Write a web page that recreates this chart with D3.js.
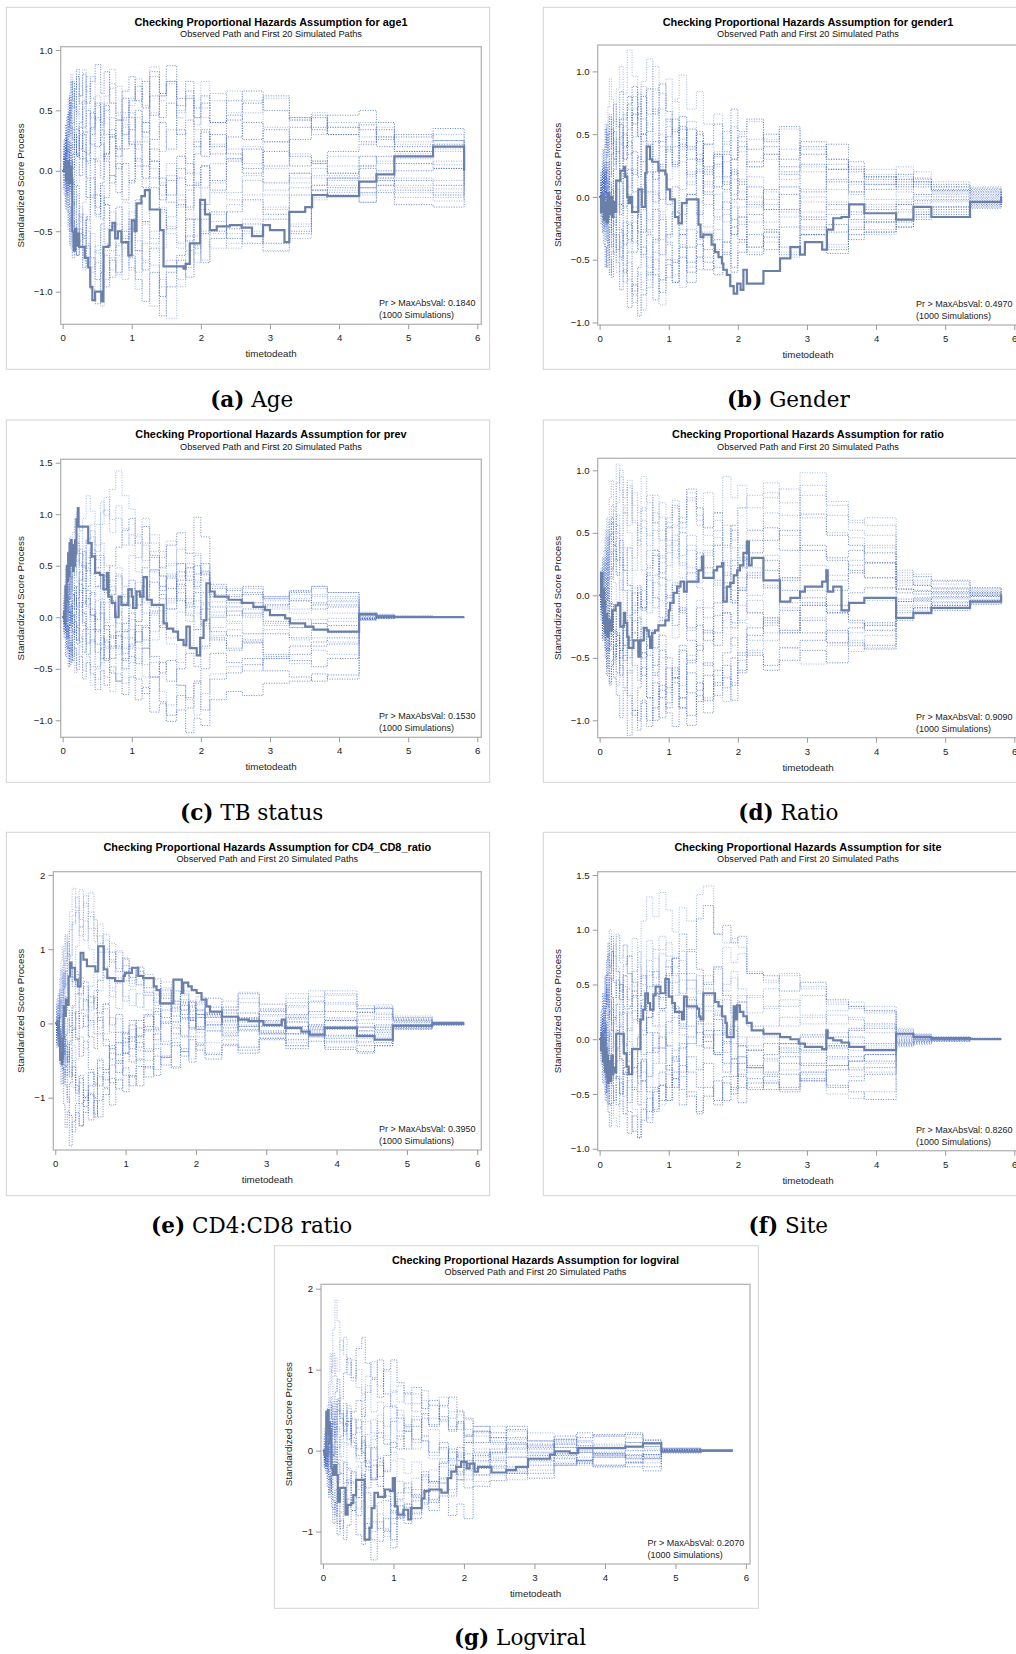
<!DOCTYPE html>
<html>
<head>
<meta charset="utf-8">
<script src="https://cdn.jsdelivr.net/npm/d3@7"></script>
<style>
  body { margin: 0; background: #fff; }
  svg { display: block; }
</style>
</head>
<body>
<svg id="fig" width="1016" height="1654"></svg>
<script>
// Death times at which the score processes can jump; every path returns to 0 at the last death.
const eventTimes = [0, 0.02, 0.04, 0.06, 0.08, 0.10, 0.12, 0.14, 0.17, 0.20, 0.24,
  0.29, 0.34, 0.40, 0.47, 0.55, 0.60, 0.68, 0.77, 0.86, 0.96,
  1.05, 1.15, 1.26, 1.40, 1.50, 1.65, 1.78, 1.90, 2.00, 2.13,
  2.37, 2.60, 2.90, 3.28, 3.60, 3.83, 4.29, 4.54, 4.80, 5.36];
const lastTime = 5.81;
const xTickValues = [0, 1, 2, 3, 4, 5, 6];

// First 20 simulated standardized score paths, one row per path, values in hundredths.
const ageSim = [
  [0,12,-2,26,44,28,56,40,64,48,30, 52,70,44,62,36,50,72,48,30,54, 66,40,78,58,72,44,60,38,52,64, 48,58,36,44,30,40,28,36,22,18],
  [0,-10,-26,-6,-34,-50,-30,-58,-42,-70,-52, -80,-62,-98,-110,-84,-70,-88,-62,-50,-72, -90,-108,-84,-120,-96,-74,-88,-62,-76,-56, -48,-60,-40,-52,-20,-14,-26,-18,-28,-30],
  [0,16,32,14,48,64,80,58,72,46,62, 84,66,78,54,40,62,84,70,48,60, 76,54,86,62,74,48,60,34,44,22, 10,20,2,-10,-4,4,12,8,14,16],
  [0,-14,2,-20,6,24,8,-10,-28,-12,-38, -54,-40,-72,-90,-68,-96,-74,-84,-60,-48, -66,-82,-64,-104,-84,-70,-54,-64,-40,-50, -34,-24,-36,-20,-12,-6,-14,-8,-16,-20],
  [0,6,20,2,-14,4,-24,-8,-36,-20,-42, -26,-8,-22,10,28,12,-4,20,38,24, 8,24,-6,-20,-4,-30,-16,-2,-14,6, 18,6,24,14,8,12,4,0,-6,-8],
  [0,22,38,16,46,62,40,26,50,34,18, 30,8,36,56,38,54,28,42,60,44, 24,40,8,-6,-20,2,-12,14,32,20, 42,56,62,44,34,46,50,40,28,35],
  [0,-16,-32,-10,-44,-60,-38,-72,-54,-40,-64, -82,-60,-96,-76,-112,-90,-72,-86,-64,-80, -98,-76,-112,-90,-122,-96,-80,-60,-74,-52, -64,-50,-66,-46,-22,-18,-26,-16,-22,-25],
  [0,10,-6,8,-16,4,22,2,30,14,-4, 10,-22,-6,-30,-10,14,34,18,42,22, 4,-14,8,-24,-8,12,-2,24,12,30, 14,2,-10,-2,-16,-6,4,12,6,2],
  [0,-6,-20,2,-28,-12,-30,-46,-24,-52,-36, -56,-40,-22,-38,-20,-48,-66,-44,-60,-34, -58,-74,-50,-64,-38,-24,-40,-12,-28,-18, -24,-8,-16,-2,6,-4,12,6,10,5],
  [0,26,8,44,60,36,74,52,68,84,62, 80,56,74,88,64,82,56,42,66,78, 58,74,46,62,74,54,66,44,56,40, 58,66,50,42,46,36,34,26,30,25],
  [0,-20,-4,-34,-50,-28,-64,-42,-70,-52,-30, -56,-76,-52,-68,-44,-28,-50,-70,-54,-82, -66,-44,-60,-34,-52,-64,-40,-54,-32,-42, -28,-20,-32,-14,-6,-12,-18,-8,-14,-15],
  [0,4,-10,10,24,4,36,18,34,12,40, 58,32,48,20,34,8,-10,6,-24,-8, 10,-6,26,40,18,34,6,-10,4,-16, 8,18,4,26,36,30,24,34,20,25],
  [0,-8,8,20,2,-14,-2,-28,-12,-44,-58, -36,-64,-84,-66,-48,-60,-34,-50,-26,-48, -66,-42,-56,-30,-46,-60,-40,-68,-50,-36, -52,-40,-30,-44,-24,-16,-20,-12,-18,-22],
  [0,20,4,30,48,30,58,74,52,78,56, 36,50,22,8,-6,14,30,12,44,58, 70,52,82,64,87,60,74,52,62,40, 46,26,34,12,6,16,22,28,16,22],
  [0,-8,6,-14,8,-6,-20,-4,10,-10,4, 22,6,34,52,30,56,68,46,30,48, 18,32,2,-10,6,-20,-32,-14,-28,-10, -18,-4,-20,-6,2,-2,-6,0,6,8],
  [0,14,-2,-18,-4,-30,-44,-26,-56,-70,-48, -64,-38,-20,-36,-12,-28,-46,-30,-56,-40, -24,-42,-14,-32,-48,-28,-58,-40,-52,-34, -56,-44,-60,-50,-16,-20,-14,-12,-8,-12],
  [0,-4,14,30,10,44,56,34,68,50,70, 56,78,60,42,56,30,44,18,36,22, 44,28,48,16,34,50,62,44,74,58, 66,48,60,42,48,36,40,28,24,30],
  [0,10,26,6,-10,6,-18,14,30,12,36, 16,-6,10,-20,-40,-22,-4,-18,6,-10, 22,4,18,-12,-26,-6,-30,-12,4,-8, 10,-2,16,4,8,-2,2,-6,0,2],
  [0,-14,-30,-8,-46,-62,-40,-72,-54,-36,-58, -74,-50,-80,-62,-44,-66,-82,-60,-90,-70, -84,-60,-78,-96,-74,-90,-66,-76,-52,-64, -60,-52,-67,-56,-12,-8,-18,-6,-12,-18],
  [0,6,18,-2,16,-6,8,-12,14,28,10, 32,14,30,44,22,10,28,2,18,34, 50,32,62,44,56,30,42,20,34,14, 28,40,24,36,44,30,38,20,16,20]
];
const genderSim = [
  [0,18,4,36,58,40,72,94,78,60,86, 104,82,117,96,74,92,110,86,70,94, 78,97,70,84,58,66,44,56,36,46, 30,38,20,26,12,18,6,10,4,-3],
  [0,-12,-28,-8,-40,-56,-34,-62,-44,-30,-52, -74,-58,-88,-70,-95,-78,-60,-82,-66,-50, -68,-48,-60,-38,-52,-62,-44,-56,-36,-46, -32,-40,-24,-45,-30,-28,-20,-16,-10,-6],
  [0,10,-4,22,8,34,50,30,62,44,28, 48,66,40,80,62,44,58,30,50,36, 54,28,16,34,10,24,42,30,50,60, 46,54,38,30,24,22,14,20,8,5],
  [0,-6,10,24,6,-10,8,-14,-30,-16,-42, -26,-60,-44,-75,-56,-40,-62,-34,-18,-36, -52,-30,-68,-48,-58,-34,-46,-24,-34,-14, -26,-10,-30,-22,-34,-28,-24,-18,-12,-8],
  [0,14,28,8,36,20,52,40,18,46,62, 42,30,54,70,48,88,66,104,82,60, 76,46,60,30,42,16,28,2,14,-8, 4,-12,6,14,2,12,16,10,5,3],
  [0,-16,-2,-24,4,-14,-34,-12,-40,-20,-6, 12,-8,22,4,-16,6,-28,-10,-46,-30, -12,-30,2,-14,20,8,34,18,48,38, 50,30,40,22,28,14,18,8,6,4],
  [0,6,-10,8,-22,-4,14,28,6,30,12, -6,16,-20,-36,-14,-48,-66,-44,-86,-64, -50,-72,-40,-58,-28,-42,-14,-30,-20,-40, -28,-44,-30,-38,-20,-26,-12,-10,-8,-5],
  [0,-10,6,-16,4,22,8,38,54,30,46, 62,40,74,88,66,80,52,70,44,62, 40,54,30,44,18,32,6,22,12,28, 40,24,44,30,22,16,12,15,10,7],
  [0,22,38,16,2,14,-8,12,-6,26,40, 18,34,8,22,-6,10,-18,4,-12,14, 28,6,20,-4,12,-10,4,-18,-8,-20, -6,-16,0,-10,4,-8,-4,0,2,1],
  [0,-22,-6,-38,-56,-40,-24,-50,-64,-44,-30, -48,-20,-34,-8,-28,-46,-30,-62,-76,-54, -68,-40,-52,-28,-42,-56,-36,-60,-44,-30, -42,-24,-18,-28,-12,-20,-6,-12,-14,-9],
  [0,12,26,6,40,58,36,66,48,26,44, 20,56,70,48,82,62,44,68,40,56, 26,38,10,22,-6,8,-20,-4,-16,0, -10,8,-4,14,22,10,24,14,12,8],
  [0,-4,12,-6,20,2,-16,-2,-26,-10,6, -14,18,2,36,16,50,30,44,22,48, 62,40,54,28,42,58,36,70,52,62, 44,56,34,42,20,16,8,12,5,2],
  [0,8,-8,-24,-6,-36,-18,-2,-20,-8,-34, -50,-30,-66,-84,-60,-74,-48,-58,-34,-50, -62,-40,-56,-34,-48,-26,-36,-18,-34,-44, -36,-48,-30,-40,-24,-30,-18,-14,-8,-5],
  [0,14,-2,18,-10,6,28,10,-4,22,36, 14,50,34,66,48,28,42,14,26,-6, 8,-14,2,20,4,26,12,-2,10,-6, 6,18,4,22,12,6,10,2,0,-1],
  [0,-14,-28,-8,-34,-18,-46,-60,-38,-22,-42, -28,-54,-36,-20,-38,-10,-26,2,-16,-30, -12,-38,-26,-48,-32,-18,-36,-8,-22,-4, -20,-10,-26,-14,-30,-18,-10,-5,-3,-2],
  [0,20,6,38,54,32,50,64,42,74,56, 84,62,80,58,72,50,86,66,90,68, 52,64,40,52,24,34,10,20,-2,8, -10,2,-16,-6,-18,-10,-6,-3,-2,0],
  [0,-6,-20,-2,-28,-10,-24,-40,-16,-46,-60, -40,-68,-52,-78,-62,-90,-72,-50,-66,-38, -52,-26,-40,-12,-24,2,-10,14,4,16, -2,8,-12,-4,-14,-6,-2,2,3,4],
  [0,10,22,4,28,12,-2,16,34,52,36, 58,30,44,18,32,4,20,-4,24,40, 26,56,38,50,22,34,16,30,40,24, 34,20,26,12,4,10,14,12,8,6],
  [0,-2,-14,4,-18,2,-20,-6,12,-8,14, -10,6,-28,-12,-42,-26,-56,-36,-14,-32, -4,-20,12,26,8,36,52,30,44,24, 34,14,24,6,10,-2,4,-2,-4,-3],
  [0,6,-8,14,-6,-22,-4,-18,6,-12,-26, -6,-38,-22,-44,-14,-28,4,20,-2,38, 24,42,18,30,2,-16,-4,-30,-16,-40, -28,-46,-30,-42,-26,-20,-24,-14,-8,-7]
];
const prevSim = [
  [0,22,8,35,52,41,70,58,88,102,84, 96,118,103,90,112,99,124,142,118,105, 80,96,72,58,74,52,44,60,36,22, 28,14,20,8,12,4,3,1,0,0],
  [0,-12,4,-20,-8,-33,-18,-42,-30,-51,-38, -60,-44,-55,-70,-52,-66,-48,-62,-75,-58, -80,-68,-92,-84,-101,-90,-112,-98,-105,-80, -72,-76,-64,-62,-55,-60,-2,-1,0,0],
  [0,15,30,12,45,60,38,72,55,80,62, 48,75,90,70,102,116,95,108,86,70, 78,55,64,40,52,30,48,62,41,30, 22,28,18,25,30,20,3,2,1,0],
  [0,-6,12,-4,20,5,-15,2,-22,-8,14, -5,-25,-12,-34,-20,-42,-28,-14,-35,-20, -45,-30,-58,-44,-62,-50,-35,-48,-28,-20, -32,-25,-38,-42,-48,-40,1,0,0,0],
  [0,10,-4,24,40,22,55,70,48,66,52, 35,48,22,30,10,-5,12,-18,-30,-12, -40,-58,-44,-72,-85,-66,-80,-95,-74,-55, -48,-52,-40,-45,-32,-36,-3,-1,0,0],
  [0,14,28,6,30,18,44,26,58,72,50, 64,45,58,30,42,24,50,68,84,96, 72,88,60,48,70,82,62,97,78,28, 20,24,12,16,8,10,2,1,0,0],
  [0,-14,-2,-28,-40,-22,-36,-12,-30,-46,-28, -52,-38,-66,-50,-40,-58,-72,-55,-64,-44, -30,-46,-22,-8,-20,5,18,4,12,2, -4,4,-8,-2,-6,-1,0,0,0,0],
  [0,6,20,4,32,18,40,22,8,30,44, 28,52,66,48,60,36,22,40,14,28, 12,30,46,26,38,16,2,-12,8,-22, -30,-22,-36,-28,-24,-20,-1,0,0,0],
  [0,20,36,18,50,64,44,82,96,72,88, 60,74,42,56,28,14,30,-6,-20,-2, -24,-8,10,-4,16,28,12,34,45,15, 10,14,8,16,20,18,4,2,1,0],
  [0,-8,10,-14,4,18,-2,22,8,-10,-24, -12,-36,-22,-48,-30,-40,-18,-30,-6,12, -4,20,34,18,40,52,36,50,42,32, 26,30,20,24,14,12,2,1,0,0],
  [0,12,-6,8,-18,-30,-12,-42,-54,-36,-20, -34,-10,-24,4,18,-2,26,42,30,60, 44,72,80,64,50,66,40,28,14,5, 10,4,16,22,28,24,5,3,1,0],
  [0,-4,-16,6,-20,-8,12,-6,24,10,36, 50,30,62,44,28,40,16,2,-14,4, -24,-10,-38,-54,-42,-66,-78,-62,-90,-60, -54,-46,-40,-36,-28,-26,-2,-1,0,0],
  [0,26,48,30,64,78,52,68,40,56,24, 38,10,-4,16,-18,-30,-8,6,-12,20, 34,14,46,30,8,24,-4,10,-6,0, 6,0,12,18,22,15,3,2,1,0],
  [0,-16,-4,-30,-12,6,-10,16,30,12,26, 4,-12,8,-26,-40,-22,-54,-62,-40,-28, -14,-30,4,-10,18,32,10,42,52,10, 2,8,-4,-10,-6,-15,-1,0,0,0],
  [0,8,20,2,28,44,30,60,74,54,66, 42,58,78,64,90,104,82,96,70,80, 58,70,44,30,42,18,4,16,-8,-18, -12,-16,-6,-10,-2,-4,0,0,0,0],
  [0,-6,-20,-8,-32,-46,-24,-38,-12,-26,6, -8,18,2,-14,4,-24,-40,-28,-50,-38, -60,-74,-58,-82,-95,-76,-88,-64,-50,-35, -44,-40,-52,-58,-62,-56,-2,-1,0,0],
  [0,16,2,22,8,28,14,38,52,34,62, 48,76,84,60,72,50,36,48,22,10, 26,4,-14,6,-26,-44,-28,-12,-30,0, 6,2,10,4,12,16,2,1,0,0],
  [0,-20,-38,-18,-48,-30,-44,-16,-4,-22,10, 28,12,24,-2,14,-12,-30,-18,-42,-26, -8,-22,6,22,8,36,48,30,44,20, 14,22,18,26,30,24,4,2,1,0],
  [0,4,16,-2,26,38,18,4,-14,8,-20, -34,-16,-48,-60,-44,-28,-52,-36,-14,-30, -4,18,2,30,14,40,52,36,24,-10, -6,-16,-12,-22,-20,-24,-3,-1,0,0],
  [0,-4,8,22,6,-8,12,-14,2,18,32, 14,26,2,-12,-26,-8,-20,4,20,36, 22,48,58,40,28,44,14,24,-2,-14, -18,-24,-16,-20,-12,-8,-1,0,0,0]
];
const ratioSim = [
  [0,14,30,12,46,62,40,78,92,70,105, 84,66,88,72,50,68,80,58,74,55, 40,62,76,56,82,66,95,78,88,70, 82,64,98,75,58,62,18,15,11,6],
  [0,-12,-28,-10,-42,-58,-36,-70,-52,-66,-80, -98,-76,-112,-92,-100,-84,-105,-90,-72,-94, -105,-82,-96,-70,-84,-60,-74,-50,-62,-48, -60,-52,-44,-54,-40,-43,-20,-15,-12,-7],
  [0,8,-6,24,38,20,46,30,58,42,64, 48,70,56,82,66,95,74,58,44,62, 76,54,82,64,48,60,38,56,70,52, 78,85,62,50,46,38,16,17,12,6],
  [0,-6,-20,4,-14,-30,-12,-44,-26,-52,-36, -64,-48,-80,-96,-74,-58,-82,-64,-98,-86, -70,-90,-62,-76,-54,-80,-66,-84,-60,-46, -56,-42,-36,-28,-38,-40,-14,-10,-8,-5],
  [0,22,4,36,52,30,14,34,50,28,46, 24,38,8,-6,-22,-4,12,-10,26,40, 56,32,48,20,36,8,18,-6,-20,-4, -30,-42,-55,-40,-30,-24,-12,-8,-5,-3],
  [0,-16,-34,-18,-50,-64,-42,-72,-56,-40,-62, -44,-28,-50,-30,-46,-64,-40,-56,-32,-50, -66,-44,-78,-85,-64,-72,-46,-34,-48,-26, -18,-28,-8,-14,2,6,5,4,3,2],
  [0,10,-4,16,30,14,52,36,20,40,18, 4,24,38,20,56,70,48,80,62,44, 30,50,22,10,34,46,28,56,40,22, 32,14,24,12,28,40,10,8,6,4],
  [0,-10,-24,-6,-30,-14,6,-8,22,36,16, 30,4,-16,2,-34,-50,-28,-42,-20,-6, 8,-12,18,34,22,40,16,28,4,-14, -22,-12,-30,-38,-26,-22,-5,-3,-8,-4],
  [0,20,6,-8,14,26,8,42,58,40,74, 95,72,86,58,44,60,40,66,52,34, 48,24,36,6,-10,12,-26,-40,-22,-36, -18,-6,4,16,24,14,8,10,6,3],
  [0,-4,-20,-6,-36,-22,-44,-18,-32,-50,-30, -56,-74,-60,-92,-108,-86,-100,-70,-82,-58, -66,-40,-52,-24,-36,-6,10,-4,28,44, 54,36,65,48,40,34,12,8,5,2],
  [0,8,20,-2,26,8,30,14,34,10,-6, 12,-14,4,-30,-18,-46,-30,-64,-50,-78, -60,-72,-48,-70,-82,-64,-85,-70,-52,-44, -36,-28,-20,-12,-6,-4,-10,-12,-10,-6],
  [0,-14,4,-8,20,36,16,48,62,40,28, 44,20,8,-12,6,-10,22,36,18,54, 72,58,85,70,54,66,40,52,30,14, 20,4,-6,-14,-22,-28,-18,-10,-6,-4],
  [0,12,26,6,-10,8,-22,-38,-20,-54,-72, -58,-40,-62,-36,-18,-30,-6,10,-4,24, 36,14,40,22,32,12,24,4,-8,-14, -24,-30,-18,-38,-45,-32,-8,-5,-3,-1],
  [0,-20,-36,-14,-44,-26,-8,-30,-16,-48,-32, -50,-20,-34,-8,8,-10,16,-2,-18,0, -24,-10,-36,-44,-28,-40,-14,-22,6,16, 28,12,40,30,36,26,5,3,1,0],
  [0,6,18,-2,30,46,28,60,72,50,90, 100,78,92,60,40,54,24,36,8,-16, -34,-12,-28,-4,-18,10,-2,24,38,52, 66,48,80,64,52,48,14,12,9,5],
  [0,-8,-22,-4,-36,-50,-28,-40,-14,-30,-6, -24,-40,-18,-56,-68,-46,-82,-100,-76,-90, -66,-82,-54,-40,-56,-30,-14,-26,4,18, 6,14,-2,-8,-20,-24,-3,-2,-1,0],
  [0,16,30,10,24,-4,12,28,14,40,56, 38,66,50,30,44,20,36,52,32,58, 70,50,78,60,40,52,26,38,14,0, 8,-10,-20,-30,-36,-42,-18,-14,-10,-7],
  [0,-6,-16,2,-10,14,-4,-20,-6,-28,-40, -24,-52,-36,-20,-38,-26,-48,-62,-44,-74, -58,-90,-104,-80,-94,-70,-56,-72,-46,-32, -20,-30,-8,4,18,26,2,1,2,1],
  [0,4,16,0,28,12,40,58,44,68,50, 34,20,38,6,-10,4,-14,16,30,12, 44,26,10,30,18,40,56,44,70,80, 90,74,88,72,60,56,20,15,12,6],
  [0,-2,-12,6,-18,-4,14,-6,-22,-8,-32, -44,-24,-36,-14,2,-12,18,32,14,-2, 10,-14,-26,-10,-30,-16,6,-6,22,34, 44,52,36,28,20,14,-5,-4,-2,-1]
];
const cd4Sim = [
  [0,24,8,46,72,50,98,120,96,150,182, 156,130,172,144,118,96,112,84,62,78, 50,64,38,24,40,18,30,12,26,8, 22,34,16,40,28,44,20,25,8,2],
  [0,-28,-10,-54,-82,-60,-110,-140,-118,-165,-132, -108,-138,-120,-96,-126,-104,-88,-110,-76,-92, -70,-84,-58,-70,-46,-60,-38,-52,-30,-42, -28,-36,-20,-30,-24,-35,-38,-30,-8,-2],
  [0,16,38,18,60,78,52,34,66,88,62, 104,130,112,150,128,108,120,86,98,70, 54,70,42,28,38,16,26,6,-6,8, -12,-2,-20,-8,-16,-4,-10,-15,-5,-1],
  [0,-12,8,-30,-14,12,-6,36,18,-4,14, -20,-44,-24,-62,-84,-60,-76,-40,-54,-20, -34,-6,12,-8,26,10,28,4,18,-2, 10,-8,2,-14,-4,-20,-30,-26,-6,-2],
  [0,32,12,60,84,104,78,118,92,126,146, 170,140,162,128,110,134,100,82,96,66, 74,52,62,38,48,26,40,18,30,8, 18,28,10,24,36,26,20,14,8,2],
  [0,-6,-24,-8,-40,-62,-36,-84,-106,-80,-58, -84,-108,-90,-130,-104,-126,-96,-74,-88,-60, -72,-48,-60,-34,-46,-26,-38,-18,-28,-10, -16,-4,-14,-22,-10,-24,-25,-20,-4,-1],
  [0,12,-4,30,46,22,50,70,44,82,56, 40,62,30,18,36,4,26,44,20,58, 74,52,66,40,56,30,44,24,36,14, 22,6,16,28,12,40,10,5,5,1],
  [0,-16,4,-34,-18,-52,-30,-58,-38,-72,-50, -90,-70,-112,-94,-122,-84,-66,-80,-50,-70, -84,-58,-72,-44,-56,-30,-44,-22,-36,-48, -30,-40,-22,-34,-18,-32,-40,-30,-7,-2],
  [0,6,24,2,34,58,40,84,106,90,134, 150,118,138,100,82,96,64,48,60,36, 24,40,18,34,46,26,38,16,28,12, 30,42,20,34,44,38,24,20,10,2],
  [0,-22,-6,-38,-16,8,-12,-30,-52,-34,-70, -94,-74,-100,-66,-82,-50,-62,-30,-42,-12, -24,4,-10,20,8,30,12,22,-4,10, -6,6,-12,-4,-18,-8,-5,-8,-3,-1],
  [0,10,-6,22,44,30,68,52,90,74,56, 70,38,50,22,34,4,-14,8,-26,-40, -20,-50,-36,-62,-44,-58,-34,-48,-26,-40, -22,-32,-14,-26,-8,-18,5,8,3,1],
  [0,-10,6,-22,-40,-18,-56,-70,-44,-24,-6, -22,14,-4,36,20,58,76,96,70,88, 62,76,48,60,34,44,18,30,8,22, 4,14,-4,8,16,4,15,20,6,1],
  [0,14,-4,10,-20,-36,-14,-52,-70,-46,-30, -48,-18,-34,-2,14,-6,20,-12,6,-24, -8,-36,-50,-28,-44,-20,-34,-8,-18,2, -10,6,-4,10,-2,8,-15,-10,-2,0],
  [0,-4,-18,8,30,12,48,70,94,74,50, 66,40,56,28,44,14,26,-2,12,-14, 4,-16,-4,16,0,22,6,28,12,34, 18,40,26,12,30,16,15,22,4,1],
  [0,20,40,18,-4,12,-24,-48,-28,-66,-86, -104,-80,-98,-66,-80,-48,-62,-34,-52,-30, -44,-18,-34,-10,-24,-2,-16,6,-12,-26, -14,-32,-20,-30,-12,-26,-20,-18,-5,-1],
  [0,-14,-30,-10,-46,-28,-42,-16,6,-12,24, 40,18,32,4,-14,8,-22,-34,-12,-26, -2,-18,10,-6,18,2,24,8,-8,14, 2,-10,4,-14,-2,-16,-10,-5,-2,0],
  [0,26,6,30,10,-12,-30,-8,-28,-4,22, 6,34,18,50,70,44,62,36,54,30, 46,22,38,12,26,2,18,-6,8,-10, 6,-4,12,22,8,28,20,12,3,1],
  [0,-32,-14,-40,-24,-58,-80,-62,-100,-124,-146, -120,-138,-104,-84,-100,-72,-86,-56,-66,-40, -52,-26,-38,-14,-28,-6,-18,4,-8,12, -2,8,-10,2,-14,-4,-15,-12,-4,-1],
  [0,8,26,10,44,66,48,90,110,92,136, 152,180,158,176,140,118,96,108,74,86, 58,70,42,30,44,20,32,8,18,-6, -18,-4,-14,2,-8,6,0,-5,-2,0],
  [0,-8,12,-4,-24,-6,-40,-22,-52,-28,-8, 16,-6,10,-18,-34,-14,-30,-48,-26,-40, -18,-32,-8,-22,2,-14,8,-6,12,-2, 14,2,18,6,-6,4,-5,-2,1,0]
];
const siteSim = [
  [0,18,4,36,58,40,76,100,82,64,50, 36,58,76,92,70,108,130,112,134,118, 98,120,108,132,140,96,88,92,84,60, 52,58,46,32,34,30,8,4,2,0],
  [0,-14,2,-30,-50,-34,-66,-80,-58,-42,-60, -40,-68,-86,-70,-90,-74,-54,-66,-42,-56, -36,-60,-48,-68,-52,-38,-56,-44,-58,-40, -34,-44,-30,-42,-48,-55,-5,-3,-1,0],
  [0,10,24,6,42,60,36,72,54,80,96, 74,86,60,48,66,40,58,82,94,76, 60,42,54,28,14,24,-4,8,-16,-26, -20,-28,-12,-4,-10,-8,-3,-2,0,0],
  [0,-6,8,-12,14,-4,-26,-8,-42,-56,-34, -50,-30,-58,-44,-22,-38,-12,6,-8,16, 30,12,36,20,4,-12,6,-22,-34,-46, -40,-48,-36,-44,-38,-32,-6,-4,-2,0],
  [0,22,6,40,56,34,60,42,70,86,66, 50,30,46,18,32,8,26,50,36,72, 58,40,60,32,46,22,8,16,-4,2, 12,20,14,26,30,24,6,3,1,0],
  [0,-20,-40,-22,-56,-38,-60,-30,-14,-36,-8, 12,-6,28,40,18,30,6,-12,2,-28, -44,-24,-52,-66,-44,-60,-34,-46,-22,-10, -4,-12,2,-8,-16,-20,-4,-2,0,0],
  [0,6,20,-2,30,50,36,58,28,14,32, 4,-14,10,-26,-40,-20,-34,-8,-22,6, 24,10,38,20,52,64,44,56,34,40, 28,36,22,14,20,6,7,4,1,0],
  [0,-10,-24,-4,10,-12,22,36,14,-4,8, -18,-32,-14,-46,-60,-38,-66,-48,-30,-44, -16,-30,2,16,-2,18,4,12,-6,-10, -18,-8,-24,-16,-28,-26,2,1,0,0],
  [0,12,30,14,-2,22,40,18,56,76,94, 70,86,60,44,68,50,72,56,82,88, 66,80,54,42,58,34,50,62,46,38, 46,30,40,22,18,12,10,5,2,1],
  [0,-4,-18,2,-30,-48,-24,-60,-40,-22,-36, -50,-26,-66,-84,-90,-64,-76,-44,-56,-24, -36,-8,12,-6,8,-14,-2,-18,-6,-26, -32,-22,-38,-28,-20,-14,-2,-1,-1,0],
  [0,14,-4,10,-20,-34,-10,6,-8,20,36, 22,48,36,62,80,56,90,74,52,66, 40,54,28,14,30,4,-12,2,-28,-44, -38,-46,-30,-24,-34,-22,-7,-5,-2,0],
  [0,-12,4,-6,22,40,18,34,8,-10,6, -18,-32,-12,-26,2,-14,20,42,28,58, 74,60,80,64,50,66,40,24,34,12, 4,-4,-10,2,8,10,4,2,1,0],
  [0,8,-8,-22,-6,-32,-14,4,-12,18,32, 14,28,-2,-18,4,-30,-44,-22,-8,-28, -10,10,-4,24,40,26,12,20,2,-6, 2,-10,-4,-18,-26,-30,-3,-1,0,0],
  [0,26,42,24,58,72,88,66,80,52,38, 50,24,8,26,14,36,48,62,38,52, 28,14,30,6,-8,8,-22,-34,-16,-26, -14,-4,4,-6,10,14,3,2,1,0],
  [0,-22,-6,10,-12,-28,-8,-40,-24,-6,-20, 4,-12,24,38,16,44,62,48,78,66, 52,72,46,58,40,66,84,70,78,62, 54,60,48,34,28,26,9,4,2,1],
  [0,6,18,-2,28,46,30,56,38,20,8, 24,-4,-20,-8,-34,-18,-48,-64,-42,-56, -30,-46,-16,-28,2,-14,-30,-18,-44,-36, -46,-32,-38,-24,-20,-14,-1,0,0,0],
  [0,-16,-30,-12,-40,-26,-6,8,-14,-28,-10, -36,-52,-38,-64,-80,-58,-72,-46,-60,-32, -18,-34,-4,14,-2,22,36,20,40,24, 30,12,20,6,-4,-6,1,0,0,0],
  [0,10,24,6,40,58,78,60,94,76,62, 44,58,30,44,16,4,20,42,28,60, 74,96,82,110,122,96,104,88,94,60, 58,44,52,36,30,26,5,3,1,0],
  [0,-8,6,-10,-24,-4,-36,-54,-40,-72,-80, -56,-68,-44,-30,-48,-20,-34,-8,12,-6, 20,4,32,44,26,36,10,-4,-22,-30, -40,-46,-32,-50,-54,-48,-4,-2,-1,0],
  [0,4,-10,-24,-6,16,-2,26,8,38,54, 36,68,76,52,40,58,30,12,26,-6, -20,-4,-30,-44,-22,-56,-40,-50,-32,-24, -30,-16,-22,-6,2,-4,0,0,0,0]
];
const logviralSim = [
  [0,28,10,56,84,120,96,150,186,160,124, 140,108,86,100,70,92,110,80,98,72, 80,58,70,44,56,36,48,26,38,22, 30,14,22,8,12,18,10,5,1,0],
  [0,-18,-2,-34,-52,-30,-70,-90,-64,-104,-86, -110,-92,-74,-104,-116,-90,-135,-112,-98,-120, -82,-66,-78,-52,-64,-40,-56,-36,-46,-30, -20,-28,-12,-4,-14,-18,-20,-25,-2,-1],
  [0,12,-4,30,48,66,44,92,114,98,136, 118,94,112,78,62,80,48,60,30,40, 14,28,2,12,-10,4,-18,-6,-24,-14, -22,-8,-14,4,12,6,16,5,2,0],
  [0,-10,6,-22,-36,-14,8,-6,28,50,34, 58,36,20,38,-2,-20,4,-44,-62,-84, -68,-80,-54,-66,-38,-50,-24,-36,-12,-22, -2,10,-6,14,22,18,20,10,3,1],
  [0,16,34,12,26,-4,18,34,10,58,44, 26,40,12,28,-4,20,38,16,54,74, 60,72,48,62,40,54,30,44,20,30, 12,24,6,14,0,-6,-10,-15,-1,0],
  [0,-22,-6,-44,-58,-36,-52,-72,-48,-90,-76, -54,-70,-40,-58,-30,-52,-68,-96,-84,-110, -76,-90,-62,-48,-60,-34,-18,-30,-4,-12, 2,-8,-18,-10,-16,-4,-8,0,1,0],
  [0,6,20,2,30,46,28,60,42,24,40, 20,32,4,-10,10,-16,2,22,8,36, 50,30,58,74,56,66,40,50,26,18, 8,-2,6,-8,-14,-6,-10,-5,0,0],
  [0,-6,10,-14,4,-20,-2,-30,-14,-40,-28, -52,-36,-64,-80,-62,-96,-110,-88,-100,-74, -84,-70,-84,-60,-74,-56,-80,-66,-84,-44, -37,-28,-34,-18,-12,-20,-15,-20,-3,-1],
  [0,22,6,-8,10,-16,-32,-14,4,-12,14, 24,8,40,28,52,36,22,44,14,-2, -10,-28,-14,-36,-24,-10,-22,-4,-16,2, -8,8,-2,14,10,4,0,-5,2,1],
  [0,-12,6,-6,22,34,14,-4,12,-16,-28, -14,-40,-26,-58,-42,-24,-36,-10,-26,4, 18,2,30,46,32,56,66,48,40,30, 22,30,12,18,6,-2,5,10,1,0],
  [0,14,28,8,44,60,38,18,34,6,-8, 10,-22,-38,-20,-54,-70,-88,-64,-96,-78, -62,-78,-48,-32,-44,-20,-30,-12,-22,-4, -14,-22,-10,-18,-8,-4,0,5,-1,0],
  [0,-4,-18,2,-26,-40,-22,-6,-28,4,18, 34,14,48,62,42,72,88,66,100,112, 84,70,78,52,62,38,24,34,10,-2, -12,-20,-28,-16,-12,-8,-5,-10,0,0],
  [0,10,-6,-20,-2,-30,-46,-24,-58,-74,-52, -64,-40,-28,-44,-14,4,-12,22,8,36, 24,32,10,18,-6,4,-14,-28,-18,-38, -30,-36,-24,-18,-12,-18,-15,-10,-2,-1],
  [0,-14,-28,-6,10,-8,26,40,18,64,46, 32,48,16,2,18,-14,-34,-18,-56,-76, -60,-46,-58,-30,-40,-16,-2,-12,10,24, 16,26,12,4,-2,4,10,13,2,0],
  [0,20,40,22,60,82,104,120,92,74,50, 30,52,6,-14,-34,-12,14,36,18,56, 44,30,42,18,26,2,-12,-2,-22,-30, -18,-26,-8,-4,2,-4,-10,-5,0,0],
  [0,-8,-20,-4,-32,-50,-34,-62,-80,-64,-96, -78,-60,-74,-48,-30,-46,-18,-32,-6,10, 2,24,14,40,30,42,26,36,18,24, 10,16,4,8,-2,-4,-6,-8,1,0],
  [0,4,16,-2,-14,2,-20,-6,14,28,10, 42,56,38,22,36,6,18,-8,-24,-12, -38,-52,-34,-64,-50,-36,-48,-20,-30,-8, -4,4,-2,10,6,8,4,2,-1,0],
  [0,-20,-4,12,-2,20,34,14,48,62,40, 24,36,10,-6,12,-20,-36,-14,-48,-68, -52,-40,-56,-26,-38,-14,2,-8,18,10, 16,2,8,-6,-12,-8,-14,-5,0,0],
  [0,4,18,-2,28,12,-6,6,-14,-30,-12, -40,-24,-56,-72,-52,-84,-100,-78,-106,-90, -82,-66,-76,-50,-62,-40,-52,-26,-36,-18, -10,-24,-4,-14,-18,-20,-15,-10,-2,-1],
  [0,-6,10,26,8,40,56,34,72,88,64, 96,114,90,126,140,108,90,112,70,54, 40,24,38,12,-2,10,-10,4,-16,-6, -2,8,2,12,16,20,22,13,3,1]
];

// Observed score paths as [time, value] steps.
const ageObserved = [[0,0],[0.03,0.06],[0.05,-0.08],[0.07,0.08],[0.09,-0.1],[0.11,0.03],[0.13,-0.06],[0.14,-0.5],[0.16,-0.66],[0.18,-0.48],[0.2,-0.62],[0.22,-0.52],[0.24,-0.63],[0.32,-0.72],[0.37,-0.8],[0.4,-0.96],[0.43,-1.07],[0.47,-1.0],[0.56,-1.08],[0.59,-0.63],[0.66,-0.62],[0.68,-0.49],[0.72,-0.43],[0.76,-0.56],[0.8,-0.5],[0.85,-0.59],[0.95,-0.7],[1.0,-0.41],[1.04,-0.5],[1.07,-0.27],[1.14,-0.21],[1.19,-0.16],[1.26,-0.32],[1.41,-0.49],[1.46,-0.79],[1.75,-0.81],[1.78,-0.77],[1.84,-0.6],[1.99,-0.24],[2.06,-0.36],[2.13,-0.49],[2.23,-0.46],[2.42,-0.45],[2.59,-0.47],[2.74,-0.54],[2.9,-0.45],[3.0,-0.49],[3.21,-0.59],[3.28,-0.34],[3.51,-0.3],[3.61,-0.2],[3.83,-0.21],[4.29,-0.09],[4.54,-0.03],[4.8,0.12],[5.36,0.2]];
const genderObserved = [[0,0],[0.02,-0.12],[0.04,0.02],[0.06,-0.18],[0.08,-0.05],[0.1,-0.2],[0.12,0.03],[0.14,-0.14],[0.16,0.0],[0.18,-0.16],[0.2,-0.04],[0.22,-0.12],[0.24,0.13],[0.3,0.21],[0.35,0.24],[0.37,0.16],[0.4,0.0],[0.42,-0.05],[0.44,0.0],[0.47,-0.12],[0.56,0.06],[0.61,-0.08],[0.66,0.19],[0.68,0.4],[0.73,0.3],[0.76,0.28],[0.85,0.21],[0.95,0.18],[0.97,0.06],[1.02,-0.02],[1.09,-0.16],[1.14,-0.21],[1.19,-0.05],[1.26,-0.02],[1.43,-0.22],[1.46,-0.32],[1.5,-0.3],[1.62,-0.38],[1.67,-0.44],[1.72,-0.48],[1.77,-0.53],[1.79,-0.58],[1.84,-0.62],[1.89,-0.71],[1.94,-0.77],[1.99,-0.69],[2.04,-0.74],[2.08,-0.58],[2.13,-0.69],[2.37,-0.59],[2.61,-0.49],[2.76,-0.4],[2.9,-0.46],[2.97,-0.36],[3.22,-0.42],[3.29,-0.26],[3.38,-0.17],[3.5,-0.16],[3.61,-0.06],[3.83,-0.13],[4.29,-0.18],[4.54,-0.08],[4.8,-0.16],[5.36,-0.04]];
const prevObserved = [[0,0],[0.02,0.05],[0.03,-0.05],[0.04,0.3],[0.05,0.15],[0.06,0.5],[0.07,0.35],[0.08,0.62],[0.09,0.4],[0.1,0.72],[0.11,0.5],[0.12,0.75],[0.13,0.55],[0.14,0.7],[0.15,0.45],[0.16,0.68],[0.17,0.5],[0.18,0.75],[0.19,0.62],[0.2,0.95],[0.22,1.06],[0.23,0.88],[0.32,0.88],[0.37,0.72],[0.42,0.59],[0.47,0.43],[0.54,0.41],[0.59,0.27],[0.64,0.43],[0.66,0.2],[0.71,0.14],[0.76,0.0],[0.81,0.2],[0.85,0.12],[0.95,0.27],[1.0,0.2],[1.02,0.09],[1.07,0.25],[1.12,0.2],[1.17,0.39],[1.22,0.17],[1.29,0.12],[1.46,-0.06],[1.51,-0.11],[1.6,-0.14],[1.67,-0.22],[1.75,-0.27],[1.79,-0.09],[1.84,-0.3],[1.94,-0.37],[1.99,-0.2],[2.04,-0.03],[2.08,0.33],[2.13,0.25],[2.2,0.2],[2.4,0.17],[2.59,0.14],[2.76,0.1],[2.93,0.07],[3.0,0.02],[3.22,-0.01],[3.29,-0.06],[3.51,-0.09],[3.63,-0.12],[3.84,-0.14],[4.29,0.03],[4.54,0.01],[4.8,0.0]];
const ratioObserved = [[0,0],[0.02,0.18],[0.04,-0.1],[0.05,0.05],[0.06,-0.22],[0.07,-0.05],[0.08,-0.3],[0.1,-0.15],[0.11,-0.33],[0.13,-0.2],[0.15,-0.28],[0.18,-0.12],[0.23,-0.08],[0.27,-0.06],[0.3,-0.25],[0.35,-0.14],[0.37,-0.22],[0.4,-0.33],[0.42,-0.42],[0.49,-0.36],[0.56,-0.49],[0.59,-0.36],[0.64,-0.26],[0.68,-0.28],[0.71,-0.33],[0.73,-0.42],[0.76,-0.3],[0.8,-0.28],[0.85,-0.24],[0.95,-0.2],[1.0,-0.12],[1.02,-0.06],[1.07,0.02],[1.12,0.07],[1.17,0.11],[1.22,0.03],[1.26,0.11],[1.43,0.2],[1.48,0.31],[1.5,0.14],[1.65,0.2],[1.7,0.23],[1.77,0.26],[1.79,-0.05],[1.84,0.07],[1.89,0.1],[1.94,0.16],[1.99,0.2],[2.03,0.24],[2.08,0.34],[2.13,0.43],[2.16,0.24],[2.2,0.3],[2.37,0.12],[2.61,-0.05],[2.76,-0.02],[2.9,0.03],[2.97,0.07],[3.22,0.11],[3.28,0.2],[3.3,0.03],[3.38,0.07],[3.5,-0.12],[3.61,-0.06],[3.83,-0.02],[4.29,-0.18],[4.54,-0.14],[4.8,-0.1],[5.36,-0.05]];
const cd4Observed = [[0,0],[0.03,0.03],[0.05,-0.1],[0.06,-0.3],[0.07,-0.49],[0.08,-0.4],[0.09,-0.55],[0.1,-0.48],[0.11,-0.2],[0.12,0.23],[0.13,0.1],[0.15,0.32],[0.17,0.25],[0.19,0.63],[0.21,0.82],[0.23,0.75],[0.28,0.59],[0.32,0.5],[0.36,0.95],[0.4,0.86],[0.45,0.77],[0.57,0.7],[0.61,1.04],[0.69,0.73],[0.74,0.61],[0.85,0.57],[0.97,0.64],[0.99,0.68],[1.09,0.75],[1.18,0.64],[1.25,0.61],[1.4,0.5],[1.44,0.45],[1.49,0.27],[1.68,0.59],[1.8,0.41],[1.82,0.55],[1.89,0.5],[1.94,0.45],[2.01,0.41],[2.08,0.32],[2.15,0.23],[2.2,0.16],[2.37,0.09],[2.6,0.05],[2.75,0.03],[2.96,-0.02],[3.22,0.05],[3.27,-0.06],[3.5,-0.11],[3.62,-0.15],[3.83,-0.06],[4.29,-0.17],[4.54,-0.22],[4.8,-0.03],[5.36,0.0]];
const siteObserved = [[0,0],[0.02,-0.1],[0.03,0.05],[0.05,-0.2],[0.06,0.0],[0.08,-0.3],[0.09,-0.08],[0.1,-0.35],[0.11,-0.15],[0.12,-0.4],[0.13,-0.2],[0.15,-0.38],[0.17,-0.15],[0.19,-0.32],[0.2,-0.26],[0.22,-0.3],[0.24,0.05],[0.3,0.05],[0.35,-0.13],[0.39,-0.25],[0.42,-0.32],[0.47,-0.09],[0.59,0.18],[0.63,0.27],[0.66,0.42],[0.7,0.33],[0.73,0.27],[0.78,0.4],[0.81,0.48],[0.88,0.42],[0.95,0.55],[1.0,0.39],[1.05,0.33],[1.09,0.25],[1.19,0.18],[1.22,0.39],[1.26,0.3],[1.41,0.28],[1.44,0.21],[1.46,0.18],[1.5,0.42],[1.67,0.34],[1.72,0.3],[1.77,0.21],[1.82,0.15],[1.84,0.02],[1.94,0.3],[1.97,0.18],[1.99,0.31],[2.03,0.25],[2.08,0.21],[2.13,0.15],[2.2,0.08],[2.37,0.05],[2.61,0.02],[2.76,0.0],[2.88,-0.04],[2.97,-0.07],[3.22,-0.09],[3.28,0.08],[3.3,0.01],[3.38,-0.01],[3.5,-0.03],[3.61,-0.07],[3.83,-0.1],[4.29,0.05],[4.54,0.02],[4.8,0.01],[5.36,0.0]];
const logviralObserved = [[0,0],[0.02,-0.05],[0.047,0.48],[0.06,0.3],[0.07,0.5],[0.08,0.2],[0.095,0.35],[0.1,0.1],[0.11,0.25],[0.12,-0.22],[0.14,-0.3],[0.16,-0.18],[0.19,-0.3],[0.21,-0.63],[0.24,-0.46],[0.32,-0.79],[0.35,-0.67],[0.4,-0.65],[0.43,-0.55],[0.47,-0.36],[0.59,-1.1],[0.66,-0.95],[0.69,-0.71],[0.73,-0.52],[0.78,-0.57],[0.88,-0.48],[0.95,-0.5],[0.99,-0.34],[1.02,-0.69],[1.06,-0.79],[1.14,-0.73],[1.21,-0.85],[1.25,-0.71],[1.4,-0.59],[1.44,-0.5],[1.51,-0.48],[1.68,-0.52],[1.77,-0.34],[1.82,-0.26],[1.89,-0.2],[1.96,-0.14],[2.04,-0.22],[2.08,-0.16],[2.15,-0.26],[2.2,-0.2],[2.39,-0.27],[2.6,-0.24],[2.74,-0.2],[2.91,-0.1],[3.22,-0.05],[3.29,-0.01],[3.5,-0.03],[3.62,0.03],[3.83,0.03],[4.29,0.05],[4.54,0.09],[4.8,-0.01],[5.36,0.0]];

// Per-variable labels and axes
const variableNames = ['age1', 'gender1', 'prev', 'ratio', 'CD4_CD8_ratio', 'site', 'logviral'];
const pValues = ['0.1840', '0.4970', '0.1530', '0.9090', '0.3950', '0.8260', '0.2070'];
const captionLetters = ['(a)', '(b)', '(c)', '(d)', '(e)', '(f)', '(g)'];
const captionNames = ['Age', 'Gender', 'TB status', 'Ratio', 'CD4:CD8 ratio', 'Site', 'Logviral'];
const yDomains = [[-1.27, 1.027], [-1.02, 1.21], [-1.165, 1.533], [-1.139, 1.096], [-1.705, 2.044], [-1.018, 1.53], [-1.40, 2.054]];
const yTickSets = [
  [-1, -0.5, 0, 0.5, 1], [-1, -0.5, 0, 0.5, 1], [-1, -0.5, 0, 0.5, 1, 1.5], [-1, -0.5, 0, 0.5, 1],
  [-1, 0, 1, 2], [-1, -0.5, 0, 0.5, 1, 1.5], [-1, 0, 1, 2]
];
const yTickFormats = ['.1f', '.1f', '.1f', '.1f', 'd', '.1f', 'd'];
const simulated = [ageSim, genderSim, prevSim, ratioSim, cd4Sim, siteSim, logviralSim];
const observed = [ageObserved, genderObserved, prevObserved, ratioObserved, cd4Observed, siteObserved, logviralObserved];

// Page geometry of each sub-figure: outer box, plot frame, caption anchor.
const layout = [
  {bx: 6.3,   by: 7.3,    bw: 483.4, bh: 362,   fl: 60.7,  fr: 481.3,  ft: 46.7,   fb: 324.3,  cx: 251.7, cy: 407.3},
  {bx: 543.3, by: 7.3,    bw: 483.4, bh: 362,   fl: 597.7, fr: 1018.3, ft: 45,     fb: 325,    cx: 788.3, cy: 407.3},
  {bx: 6.3,   by: 420,    bw: 483.4, bh: 362.3, fl: 60.7,  fr: 481.3,  ft: 459.3,  fb: 737.3,  cx: 251.7, cy: 820},
  {bx: 543.3, by: 420,    bw: 483.4, bh: 362.3, fl: 597.7, fr: 1018.3, ft: 458.3,  fb: 737.7,  cx: 788.3, cy: 820},
  {bx: 6.3,   by: 832.3,  bw: 483.4, bh: 363.4, fl: 53.3,  fr: 481.3,  ft: 871.7,  fb: 1150,   cx: 251.7, cy: 1233},
  {bx: 543.3, by: 832.3,  bw: 483.4, bh: 363.4, fl: 597.7, fr: 1018.3, ft: 871.7,  fb: 1150.7, cx: 788.3, cy: 1233},
  {bx: 274.3, by: 1245.7, bw: 484,   bh: 362.6, fl: 321,   fr: 750,    ft: 1284.3, fb: 1564,   cx: 520,   cy: 1645}
];

const SANS = "'Liberation Sans', Arial, sans-serif";
const SERIF = "'DejaVu Serif', 'Liberation Serif', serif";
const svg = d3.select('#fig');
svg.append('rect').attr('width', 1016).attr('height', 1654).attr('fill', '#fff');

function drawPanel(i) {
  const L = layout[i];
  const g = svg.append('g');

  g.append('rect')
    .attr('x', L.bx).attr('y', L.by).attr('width', L.bw).attr('height', L.bh)
    .attr('fill', '#fff').attr('stroke', '#d4d4d4').attr('stroke-width', 1);

  const x = d3.scaleLinear().domain([-0.028, 6.058]).range([L.fl, L.fr]);
  const y = d3.scaleLinear().domain(yDomains[i]).range([L.fb, L.ft]);

  const clipId = 'clip' + i;
  g.append('clipPath').attr('id', clipId)
    .append('rect').attr('x', L.fl).attr('y', L.ft).attr('width', L.fr - L.fl).attr('height', L.fb - L.ft);

  const plot = g.append('g').attr('clip-path', `url(#${clipId})`);
  const step = d3.line().x(d => x(d[0])).y(d => y(d[1])).curve(d3.curveStepAfter);

  simulated[i].forEach((row, k) => {
    if (row.length !== eventTimes.length) console.error('path length', variableNames[i], k, row.length);
    const pts = row.map((v, j) => [eventTimes[j], v / 100]);
    pts.push([lastTime, 0]);
    plot.append('path')
      .attr('d', step(pts))
      .attr('fill', 'none')
      .attr('stroke', k % 2 ? '#3559c4' : '#7d98dc')
      .attr('stroke-width', 1)
      .attr('stroke-dasharray', '1,1.5')
      .attr('stroke-opacity', 0.72);
  });

  const obs = observed[i].concat([[lastTime, 0]]);
  plot.append('path')
    .attr('d', step(obs))
    .attr('fill', 'none')
    .attr('stroke', '#6b80a8')
    .attr('stroke-width', 2.2)
    .attr('stroke-linejoin', 'miter');

  // plot frame
  g.append('rect')
    .attr('x', L.fl).attr('y', L.ft).attr('width', L.fr - L.fl).attr('height', L.fb - L.ft)
    .attr('fill', 'none').attr('stroke', '#b4b4b4').attr('stroke-width', 1.3);

  // axes
  const yAxis = d3.axisLeft(y).tickValues(yTickSets[i]).tickSize(5).tickPadding(3)
    .tickFormat(d3.format(yTickFormats[i]));
  const ya = g.append('g').attr('transform', `translate(${L.fl},0)`).call(yAxis);
  const xAxis = d3.axisBottom(x).tickValues(xTickValues).tickSize(5).tickPadding(5)
    .tickFormat(d3.format('d'));
  const xa = g.append('g').attr('transform', `translate(0,${L.fb})`).call(xAxis);
  [ya, xa].forEach(a => {
    a.select('.domain').remove();
    a.selectAll('.tick line').attr('stroke', '#9a9a9a');
    a.selectAll('.tick text').attr('fill', '#222').attr('font-family', SANS).attr('font-size', 9.6);
  });

  const midX = (L.fl + L.fr) / 2;
  g.append('text').attr('x', midX).attr('y', L.by + 18.3)
    .attr('text-anchor', 'middle').attr('font-family', SANS).attr('font-weight', 'bold')
    .attr('font-size', 10.9).attr('fill', '#000')
    .text('Checking Proportional Hazards Assumption for ' + variableNames[i]);
  g.append('text').attr('x', midX).attr('y', L.by + 29.5)
    .attr('text-anchor', 'middle').attr('font-family', SANS)
    .attr('font-size', 9.2).attr('fill', '#111')
    .text('Observed Path and First 20 Simulated Paths');

  g.append('text').attr('x', midX).attr('y', L.fb + 33)
    .attr('text-anchor', 'middle').attr('font-family', SANS)
    .attr('font-size', 9.8).attr('fill', '#222').text('timetodeath');

  const yMid = (L.ft + L.fb) / 2;
  g.append('text')
    .attr('transform', `translate(${L.bx + 13.7},${yMid}) rotate(-90)`)
    .attr('text-anchor', 'middle').attr('dominant-baseline', 'central')
    .attr('font-family', SANS).attr('font-size', 9.8).attr('fill', '#222')
    .text('Standardized Score Process');

  const inset = g.append('text').attr('font-family', SANS).attr('font-size', 9).attr('fill', '#222');
  inset.append('tspan').attr('x', L.fr - 102.4).attr('y', L.fb - 18)
    .text('Pr > MaxAbsVal: ' + pValues[i]);
  inset.append('tspan').attr('x', L.fr - 102.4).attr('y', L.fb - 6)
    .text('(1000 Simulations)');

  const cap = svg.append('text').attr('x', L.cx).attr('y', L.cy)
    .attr('text-anchor', 'middle').attr('font-family', SERIF)
    .attr('font-size', 21.5).attr('fill', '#000');
  cap.append('tspan').attr('font-weight', 'bold').text(captionLetters[i]);
  cap.append('tspan').text(' ' + captionNames[i]);
}

variableNames.forEach((_, i) => drawPanel(i));
</script>
</body>
</html>
